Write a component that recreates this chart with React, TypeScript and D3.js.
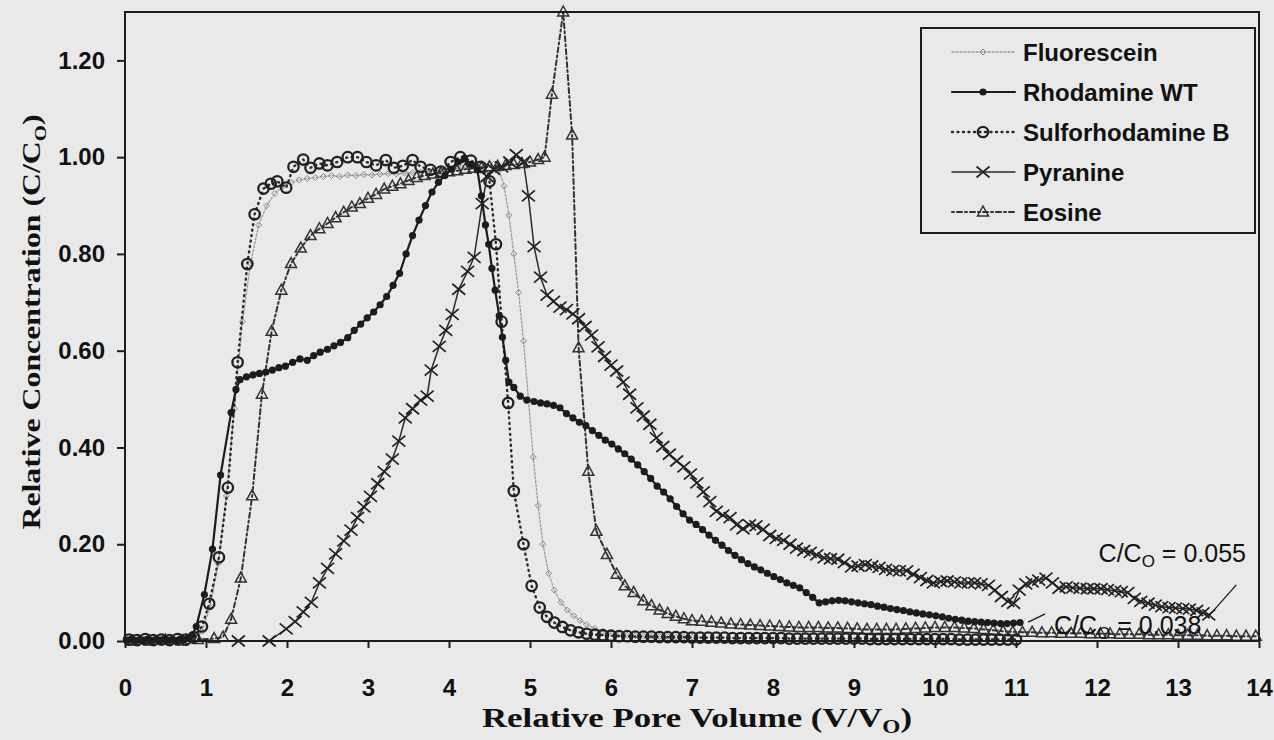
import React, { useRef, useEffect } from 'react';
import * as d3 from 'd3';

type Pt = [number, number];

const xTicks = [0, 1, 2, 3, 4, 5, 6, 7, 8, 9, 10, 11, 12, 13, 14];
const yTicks = [0, 0.2, 0.4, 0.6, 0.8, 1.0, 1.2];

const seriesNames = ['Fluorescein', 'Rhodamine WT', 'Sulforhodamine B', 'Pyranine', 'Eosine'];

// values (relative pore volume, C/C0)
const fluorescein: Pt[] = [
  [0.05, 0.0], [0.15, 0.002], [0.25, 0.0], [0.35, 0.003], [0.45, 0.0], [0.55, 0.002], [0.65, 0.0],
  [0.75, 0.003], [0.85, 0.006], [0.95, 0.02], [1.05, 0.07], [1.15, 0.16], [1.25, 0.3], [1.35, 0.48],
  [1.45, 0.66], [1.55, 0.78], [1.65, 0.86], [1.75, 0.9], [1.85, 0.925], [1.95, 0.94], [2.05, 0.948],
  [2.15, 0.953], [2.25, 0.956], [2.35, 0.958], [2.45, 0.96], [2.55, 0.962], [2.65, 0.96], [2.75, 0.963],
  [2.85, 0.962], [2.95, 0.964], [3.05, 0.963], [3.15, 0.965], [3.25, 0.966], [3.35, 0.965], [3.45, 0.967],
  [3.55, 0.968], [3.65, 0.969], [3.75, 0.97], [3.85, 0.972], [3.95, 0.974], [4.05, 0.976], [4.15, 0.978],
  [4.25, 0.978], [4.35, 0.98], [4.45, 0.982], [4.55, 0.985], [4.62, 0.975], [4.68, 0.94], [4.74, 0.88],
  [4.8, 0.8], [4.86, 0.72], [4.92, 0.62], [4.98, 0.5], [5.04, 0.38], [5.1, 0.28], [5.16, 0.2], [5.23, 0.14],
  [5.3, 0.105], [5.38, 0.08], [5.46, 0.064], [5.54, 0.052], [5.62, 0.042], [5.7, 0.034], [5.8, 0.026],
  [5.9, 0.02], [6.0, 0.016], [6.1, 0.014], [6.2, 0.012], [6.3, 0.011], [6.4, 0.01], [6.5, 0.01],
  [6.6, 0.009], [6.7, 0.009], [6.8, 0.008], [6.9, 0.008], [7.0, 0.008],
];

const rhodamineWT: Pt[] = [
  [0.03, 0.002], [0.08, 0.004], [0.13, 0.001], [0.18, 0.003], [0.23, 0.002], [0.28, 0.004], [0.33, 0.001],
  [0.38, 0.003], [0.43, 0.002], [0.48, 0.004], [0.53, 0.002], [0.58, 0.003], [0.63, 0.001], [0.68, 0.004],
  [0.73, 0.003], [0.78, 0.006], [0.83, 0.012], [0.88, 0.03], [0.98, 0.096], [1.08, 0.19], [1.18, 0.343],
  [1.31, 0.472], [1.37, 0.52], [1.42, 0.54], [1.5, 0.546], [1.58, 0.55], [1.66, 0.553], [1.74, 0.556],
  [1.82, 0.56], [1.9, 0.565], [1.98, 0.568], [2.07, 0.576], [2.16, 0.583], [2.25, 0.58], [2.33, 0.59],
  [2.41, 0.597], [2.5, 0.603], [2.58, 0.61], [2.66, 0.617], [2.75, 0.627], [2.83, 0.642], [2.91, 0.655],
  [2.99, 0.668], [3.07, 0.68], [3.15, 0.695], [3.23, 0.712], [3.31, 0.735], [3.39, 0.76], [3.47, 0.8],
  [3.55, 0.838], [3.63, 0.87], [3.71, 0.9], [3.79, 0.928], [3.87, 0.948], [3.95, 0.962], [4.03, 0.975],
  [4.11, 0.99], [4.19, 0.998], [4.27, 0.985], [4.35, 0.974], [4.4, 0.92], [4.45, 0.86], [4.49, 0.82],
  [4.53, 0.77], [4.57, 0.725], [4.62, 0.672], [4.66, 0.628], [4.7, 0.58], [4.74, 0.535], [4.8, 0.524],
  [4.88, 0.506], [4.96, 0.498], [5.05, 0.495], [5.13, 0.492], [5.21, 0.49], [5.29, 0.487], [5.37, 0.482],
  [5.45, 0.47], [5.53, 0.461], [5.61, 0.452], [5.69, 0.445], [5.77, 0.435], [5.85, 0.425], [5.93, 0.415],
  [6.01, 0.407], [6.09, 0.397], [6.17, 0.387], [6.25, 0.376], [6.33, 0.364], [6.41, 0.35], [6.49, 0.336],
  [6.57, 0.32], [6.65, 0.308], [6.73, 0.294], [6.81, 0.278], [6.89, 0.263], [6.97, 0.25], [7.05, 0.241],
  [7.13, 0.23], [7.21, 0.219], [7.29, 0.208], [7.37, 0.198], [7.45, 0.187], [7.53, 0.177], [7.61, 0.168],
  [7.69, 0.16], [7.77, 0.153], [7.85, 0.147], [7.93, 0.14], [8.01, 0.133], [8.09, 0.127], [8.17, 0.12],
  [8.25, 0.115], [8.33, 0.11], [8.41, 0.1], [8.49, 0.09], [8.57, 0.079], [8.65, 0.081], [8.73, 0.083],
  [8.81, 0.084], [8.89, 0.083], [8.97, 0.081], [9.05, 0.079], [9.13, 0.077], [9.21, 0.075], [9.29, 0.072],
  [9.37, 0.07], [9.45, 0.067], [9.53, 0.065], [9.61, 0.063], [9.69, 0.06], [9.77, 0.058], [9.85, 0.056],
  [9.93, 0.054], [10.01, 0.052], [10.09, 0.05], [10.17, 0.047], [10.25, 0.045], [10.33, 0.043],
  [10.41, 0.041], [10.49, 0.04], [10.57, 0.039], [10.65, 0.038], [10.73, 0.037], [10.81, 0.036],
  [10.89, 0.036], [10.97, 0.037], [11.05, 0.038],
];

const sulforhodamineB: Pt[] = [
  [0.05, 0.003], [0.15, 0.002], [0.25, 0.004], [0.35, 0.002], [0.45, 0.003], [0.55, 0.002], [0.65, 0.004],
  [0.75, 0.003], [0.85, 0.008], [0.95, 0.03], [1.04, 0.077], [1.16, 0.173], [1.27, 0.317], [1.39, 0.576],
  [1.51, 0.779], [1.6, 0.882], [1.71, 0.935], [1.8, 0.945], [1.88, 0.95], [1.99, 0.937], [2.08, 0.98],
  [2.2, 0.995], [2.29, 0.978], [2.4, 0.987], [2.5, 0.983], [2.62, 0.99], [2.75, 1.0], [2.87, 1.0],
  [2.98, 0.99], [3.1, 0.983], [3.22, 0.994], [3.32, 0.978], [3.43, 0.982], [3.55, 0.994], [3.65, 0.98],
  [3.77, 0.974], [3.9, 0.97], [4.02, 0.99], [4.14, 1.0], [4.27, 0.993], [4.39, 0.98], [4.5, 0.95],
  [4.58, 0.82], [4.65, 0.66], [4.73, 0.492], [4.8, 0.31], [4.92, 0.2], [5.02, 0.114], [5.12, 0.069],
  [5.21, 0.05], [5.3, 0.038], [5.4, 0.029], [5.5, 0.022], [5.6, 0.018], [5.7, 0.015], [5.8, 0.013],
  [5.9, 0.012], [6.0, 0.011], [6.1, 0.01], [6.2, 0.01], [6.3, 0.009], [6.4, 0.009], [6.5, 0.009],
  [6.6, 0.008], [6.7, 0.008], [6.8, 0.008], [6.9, 0.008], [7.0, 0.007], [7.1, 0.007], [7.2, 0.007],
  [7.3, 0.007], [7.4, 0.007], [7.5, 0.006], [7.6, 0.006], [7.7, 0.006], [7.8, 0.006], [7.9, 0.006],
  [8.0, 0.006], [8.1, 0.006], [8.2, 0.005], [8.3, 0.005], [8.4, 0.005], [8.5, 0.005], [8.6, 0.005],
  [8.7, 0.005], [8.8, 0.005], [8.9, 0.005], [9.0, 0.005], [9.1, 0.005], [9.2, 0.004], [9.3, 0.004],
  [9.4, 0.004], [9.5, 0.004], [9.6, 0.004], [9.7, 0.004], [9.8, 0.004], [9.9, 0.004], [10.0, 0.004],
  [10.1, 0.004], [10.2, 0.004], [10.3, 0.003], [10.4, 0.003], [10.5, 0.003], [10.6, 0.003], [10.7, 0.003],
  [10.8, 0.003], [10.9, 0.003], [11.0, 0.003],
];

const pyranine: Pt[] = [
  [1.4, 0.0], [1.78, 0.0], [1.99, 0.025], [2.1, 0.04], [2.2, 0.06], [2.3, 0.08], [2.4, 0.12], [2.5, 0.15],
  [2.6, 0.18], [2.7, 0.207], [2.79, 0.229], [2.87, 0.255], [2.95, 0.277], [3.03, 0.299], [3.12, 0.325],
  [3.2, 0.35], [3.3, 0.376], [3.38, 0.413], [3.46, 0.461], [3.55, 0.48], [3.65, 0.498], [3.73, 0.506],
  [3.78, 0.56], [3.88, 0.609], [3.96, 0.642], [4.04, 0.675], [4.12, 0.727], [4.23, 0.764], [4.31, 0.793],
  [4.41, 0.904], [4.47, 0.96], [4.55, 0.975], [4.65, 0.98], [4.75, 0.99], [4.83, 1.005], [4.92, 0.99],
  [4.98, 0.92], [5.05, 0.815], [5.13, 0.752], [5.21, 0.715], [5.29, 0.702], [5.37, 0.69], [5.45, 0.685],
  [5.53, 0.676], [5.6, 0.666], [5.68, 0.65], [5.76, 0.632], [5.84, 0.608], [5.92, 0.588], [6.0, 0.57],
  [6.07, 0.558], [6.15, 0.535], [6.23, 0.51], [6.32, 0.482], [6.4, 0.465], [6.48, 0.448], [6.56, 0.42],
  [6.64, 0.402], [6.72, 0.386], [6.81, 0.372], [6.9, 0.36], [6.98, 0.345], [7.06, 0.327], [7.14, 0.308],
  [7.22, 0.288], [7.3, 0.268], [7.38, 0.26], [7.47, 0.255], [7.55, 0.24], [7.63, 0.232], [7.71, 0.24],
  [7.79, 0.238], [7.88, 0.231], [7.96, 0.218], [8.04, 0.212], [8.13, 0.208], [8.21, 0.2], [8.29, 0.192],
  [8.38, 0.187], [8.46, 0.183], [8.54, 0.178], [8.63, 0.172], [8.71, 0.17], [8.8, 0.169], [8.88, 0.162],
  [8.97, 0.153], [9.05, 0.155], [9.14, 0.158], [9.22, 0.155], [9.31, 0.152], [9.39, 0.148], [9.48, 0.146],
  [9.56, 0.145], [9.65, 0.145], [9.73, 0.138], [9.82, 0.131], [9.9, 0.125], [9.98, 0.12], [10.07, 0.123],
  [10.15, 0.124], [10.24, 0.122], [10.32, 0.12], [10.41, 0.12], [10.49, 0.12], [10.57, 0.118],
  [10.66, 0.115], [10.74, 0.105], [10.82, 0.092], [10.9, 0.082], [10.97, 0.078], [11.04, 0.105],
  [11.12, 0.118], [11.2, 0.122], [11.28, 0.126], [11.37, 0.13], [11.45, 0.12], [11.53, 0.109],
  [11.62, 0.112], [11.7, 0.11], [11.79, 0.109], [11.88, 0.108], [11.96, 0.108], [12.05, 0.108],
  [12.13, 0.106], [12.22, 0.104], [12.3, 0.102], [12.38, 0.1], [12.46, 0.088], [12.54, 0.082],
  [12.63, 0.078], [12.72, 0.074], [12.8, 0.071], [12.89, 0.069], [12.97, 0.068], [13.06, 0.067],
  [13.14, 0.066], [13.23, 0.063], [13.31, 0.058], [13.38, 0.054],
];

const eosine: Pt[] = [
  [0.1, 0.0], [0.3, 0.0], [0.5, 0.002], [0.7, 0.0], [0.9, 0.003], [1.1, 0.005], [1.21, 0.008],
  [1.31, 0.045], [1.43, 0.13], [1.57, 0.3], [1.69, 0.51], [1.81, 0.64], [1.93, 0.725], [2.05, 0.78],
  [2.17, 0.812], [2.29, 0.838], [2.4, 0.852], [2.5, 0.863], [2.6, 0.875], [2.7, 0.886], [2.8, 0.897],
  [2.9, 0.904], [3.0, 0.915], [3.1, 0.923], [3.2, 0.934], [3.3, 0.94], [3.4, 0.945], [3.5, 0.952],
  [3.6, 0.958], [3.7, 0.962], [3.8, 0.965], [3.9, 0.967], [4.0, 0.97], [4.1, 0.972], [4.2, 0.975],
  [4.3, 0.977], [4.4, 0.978], [4.5, 0.98], [4.6, 0.981], [4.7, 0.983], [4.8, 0.985], [4.9, 0.987],
  [5.0, 0.99], [5.1, 0.995], [5.18, 1.0], [5.27, 1.13], [5.41, 1.3], [5.52, 1.046], [5.6, 0.606],
  [5.72, 0.351], [5.82, 0.227], [5.95, 0.179], [6.07, 0.138], [6.17, 0.114], [6.28, 0.1], [6.4, 0.083],
  [6.5, 0.073], [6.6, 0.064], [6.7, 0.057], [6.8, 0.051], [6.9, 0.046], [7.0, 0.042], [7.12, 0.041],
  [7.24, 0.039], [7.36, 0.037], [7.48, 0.035], [7.6, 0.034], [7.72, 0.033], [7.84, 0.032], [7.96, 0.031],
  [8.08, 0.03], [8.2, 0.029], [8.32, 0.028], [8.44, 0.028], [8.56, 0.028], [8.68, 0.027], [8.8, 0.027],
  [8.92, 0.026], [9.04, 0.025], [9.16, 0.024], [9.28, 0.024], [9.4, 0.024], [9.52, 0.024], [9.64, 0.025],
  [9.76, 0.026], [9.88, 0.027], [10.0, 0.028], [10.12, 0.028], [10.24, 0.028], [10.36, 0.027],
  [10.48, 0.026], [10.6, 0.024], [10.72, 0.022], [10.84, 0.02], [10.96, 0.019], [11.08, 0.018],
  [11.2, 0.018], [11.32, 0.017], [11.44, 0.017], [11.56, 0.016], [11.68, 0.016], [11.8, 0.016],
  [11.92, 0.015], [12.04, 0.015], [12.16, 0.015], [12.28, 0.014], [12.4, 0.014], [12.52, 0.014],
  [12.64, 0.013], [12.76, 0.013], [12.88, 0.013], [13.0, 0.012], [13.12, 0.012], [13.24, 0.012],
  [13.36, 0.011], [13.48, 0.011], [13.6, 0.011], [13.72, 0.01], [13.84, 0.01], [13.96, 0.01],
];

const INK = '#1c1c1c';
const SANS = '"Liberation Sans", Arial, sans-serif';
const SERIF = '"Liberation Serif", "Times New Roman", serif';

type MarkerKind = 'diamond' | 'dot' | 'ring' | 'cross' | 'triangle';

interface Style {
  stroke: string;
  width: number;
  dash: string | null;
  marker: MarkerKind;
}

const styles: Style[] = [
  { stroke: '#9a9a9a', width: 1.3, dash: '2,2', marker: 'diamond' },
  { stroke: INK, width: 2.2, dash: null, marker: 'dot' },
  { stroke: '#2a2a2a', width: 2.4, dash: '1,4.5', marker: 'ring' },
  { stroke: '#2a2a2a', width: 1.5, dash: null, marker: 'cross' },
  { stroke: '#333', width: 2, dash: '2,3,5,3', marker: 'triangle' },
];

function addMarker(g: d3.Selection<SVGGElement, unknown, null, undefined>, kind: MarkerKind, cx: number, cy: number) {
  if (kind === 'dot') {
    g.append('circle').attr('cx', cx).attr('cy', cy).attr('r', 3.6).attr('fill', INK);
  } else if (kind === 'ring') {
    g.append('circle').attr('cx', cx).attr('cy', cy).attr('r', 5.2)
      .attr('fill', 'none').attr('stroke', '#222').attr('stroke-width', 2.3);
  } else if (kind === 'diamond') {
    g.append('path').attr('d', `M${cx},${cy - 3}L${cx + 3},${cy}L${cx},${cy + 3}L${cx - 3},${cy}Z`)
      .attr('fill', 'none').attr('stroke', '#8a8a8a').attr('stroke-width', 1);
  } else if (kind === 'cross') {
    g.append('path').attr('d', `M${cx - 6.5},${cy - 5.5}L${cx + 6.5},${cy + 5.5}M${cx - 6.5},${cy + 5.5}L${cx + 6.5},${cy - 5.5}`)
      .attr('stroke', '#222').attr('stroke-width', 1.7);
  } else {
    g.append('path').attr('d', `M${cx},${cy - 6}L${cx + 5.5},${cy + 4}L${cx - 5.5},${cy + 4}Z`)
      .attr('fill', 'none').attr('stroke', '#333').attr('stroke-width', 1.5);
  }
}

const ConcentrationChart: React.FC = () => {
  const svgRef = useRef<SVGSVGElement | null>(null);

  useEffect(() => {
    document.body.style.margin = '0';
    const svg = d3.select(svgRef.current);
    svg.selectAll('*').remove();

    const width = 1274;
    const height = 740;
    const left = 125, right = 1259, top = 12, bottom = 641;

    svg.attr('width', width).attr('height', height);
    svg.append('rect').attr('width', width).attr('height', height).attr('fill', '#e9e9e9');

    const x = d3.scaleLinear().domain([0, 14]).range([left, right]);
    const y = d3.scaleLinear().domain([0, 1.3]).range([bottom, top]);

    // axes
    const yAxis = d3.axisLeft(y).tickValues(yTicks).tickFormat(d3.format('.2f')).tickSize(8).tickPadding(12);
    const gy = svg.append('g').attr('transform', `translate(${left},0)`).call(yAxis);
    const xAxis = d3.axisBottom(x).tickValues(xTicks).tickFormat(d3.format('d')).tickSize(7).tickPadding(31);
    const gx = svg.append('g').attr('transform', `translate(0,${bottom})`).call(xAxis);
    [gx, gy].forEach(g => {
      g.select('.domain').remove();
      g.selectAll('.tick line').attr('stroke', INK).attr('stroke-width', 2);
      g.selectAll('.tick text').attr('fill', '#111').style('font-family', SANS)
        .style('font-weight', 'bold').style('font-size', '24px');
    });

    // series
    const datasets = [fluorescein, rhodamineWT, sulforhodamineB, pyranine, eosine];
    const order = [0, 4, 2, 3, 1];
    const line = d3.line<Pt>().x(d => x(d[0])).y(d => y(d[1]));
    order.forEach(i => {
      const st = styles[i];
      const g = svg.append('g');
      const p = g.append('path').datum(datasets[i]).attr('d', line)
        .attr('fill', 'none').attr('stroke', st.stroke).attr('stroke-width', st.width)
        .attr('stroke-linecap', 'round').attr('stroke-linejoin', 'round');
      if (st.dash) p.attr('stroke-dasharray', st.dash);
      datasets[i].forEach(d => addMarker(g, st.marker, x(d[0]), y(d[1])));
    });

    // frame
    svg.append('rect').attr('x', left).attr('y', top).attr('width', right - left).attr('height', bottom - top)
      .attr('fill', 'none').attr('stroke', INK).attr('stroke-width', 2);

    // axis titles
    const xt = svg.append('text').attr('x', (left + right) / 2 + 5).attr('y', 727).attr('text-anchor', 'middle')
      .style('font-family', SERIF).style('font-weight', 'bold').style('font-size', '27px').attr('fill', '#111')
      .attr('textLength', 430).attr('lengthAdjust', 'spacingAndGlyphs');
    xt.append('tspan').text('Relative Pore Volume (V/V');
    xt.append('tspan').attr('dy', 6).style('font-size', '18px').text('O');
    xt.append('tspan').attr('dy', -6).text(')');

    const yt = svg.append('text').attr('transform', `translate(40,${322}) rotate(-90)`).attr('text-anchor', 'middle')
      .style('font-family', SERIF).style('font-weight', 'bold').style('font-size', '26px').attr('fill', '#111')
      .attr('textLength', 415).attr('lengthAdjust', 'spacingAndGlyphs');
    yt.append('tspan').text('Relative Concentration (C/C');
    yt.append('tspan').attr('dy', 6).style('font-size', '17px').text('O');
    yt.append('tspan').attr('dy', -6).text(')');

    // annotations
    const notes = [
      { text: '0.055', tx: 12.02, ty: 0.163, from: [13.72, 0.116], to: [13.37, 0.05] },
      { text: '0.038', tx: 11.47, ty: 0.015, from: [11.36, 0.056], to: [11.15, 0.039] },
    ];
    notes.forEach(n => {
      svg.append('line').attr('x1', x(n.from[0])).attr('y1', y(n.from[1])).attr('x2', x(n.to[0])).attr('y2', y(n.to[1]))
        .attr('stroke', INK).attr('stroke-width', 1.3);
      const t = svg.append('text').attr('x', x(n.tx)).attr('y', y(n.ty))
        .style('font-family', SANS).style('font-size', '25px').attr('fill', '#111');
      t.append('tspan').text('C/C');
      t.append('tspan').attr('dy', 5).style('font-size', '17px').text('O');
      t.append('tspan').attr('dy', -5).text(' = ' + n.text);
    });

    // legend
    const lg = svg.append('g');
    lg.append('rect').attr('x', 921).attr('y', 28).attr('width', 334).attr('height', 205)
      .attr('fill', '#e9e9e9').attr('stroke', INK).attr('stroke-width', 2);
    seriesNames.forEach((name, i) => {
      const st = styles[i];
      const cy = 52 + i * 40;
      const row = lg.append('g');
      const l = row.append('line').attr('x1', 952).attr('x2', 1015).attr('y1', cy).attr('y2', cy)
        .attr('stroke', st.stroke).attr('stroke-width', st.width).attr('stroke-linecap', 'round');
      if (st.dash) l.attr('stroke-dasharray', st.dash);
      addMarker(row, st.marker, 983, cy);
      row.append('text').attr('x', 1023).attr('y', cy).attr('dy', '0.36em').text(name)
        .style('font-family', SANS).style('font-weight', 'bold').style('font-size', '24px').attr('fill', '#111');
    });
  }, []);

  return <svg ref={svgRef} style={{ display: 'block' }}></svg>;
};

export default function App() {
  return <ConcentrationChart />;
}
